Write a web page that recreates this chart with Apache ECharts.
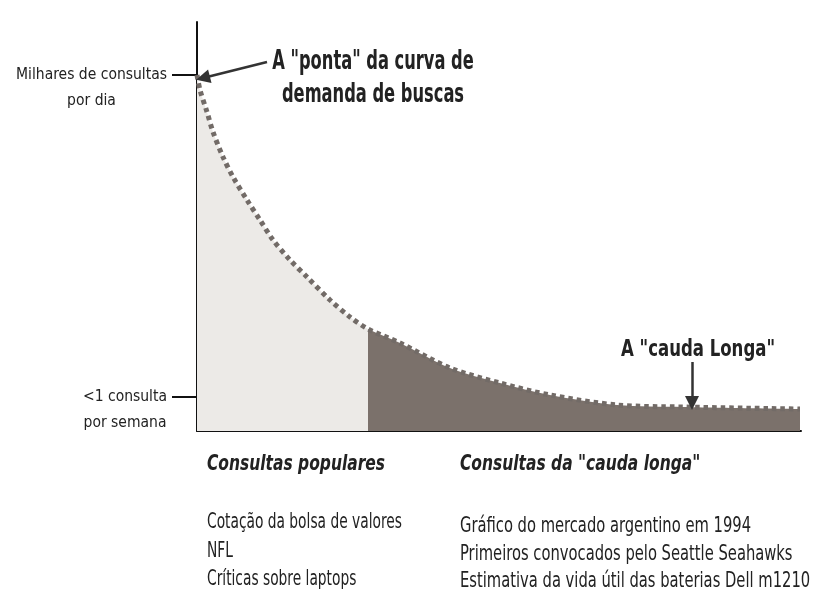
<!DOCTYPE html>
<html>
<head>
<meta charset="utf-8">
<script src="https://cdn.jsdelivr.net/npm/echarts@6/dist/echarts.min.js"></script>
<style>html,body{margin:0;padding:0;background:#fff;}#c{width:828px;height:609px;}</style>
</head>
<body>
<div id="c"></div>
<script>
// Curve: x = position along the query ranking, y = search volume (arbitrary units)
const curveX = [0, 3, 10, 16, 26, 36, 50, 63, 76, 93, 110, 133, 153, 171, 203, 253, 303, 353, 420, 486, 603];
const curveY = [356, 341, 319, 299, 274, 254, 231, 211, 191, 171, 154, 131, 114, 102, 88, 63, 48, 36, 26, 24, 22];
const splitX = 171;            // boundary between popular queries and the long tail
const xMax = 604, yMax = 409;
const tickValues = [34, 356];
const tickLabels = {356: ['Milhares de consultas', 'por dia'], 34: ['<1 consulta', 'por semana']};
const headTitle = ['A "ponta" da curva de', 'demanda de buscas'];
const tailTitle = 'A "cauda Longa"';
const headArrow = [[70, 369], [6, 353]];
const tailArrow = [[495, 69], [495, 28]];
const leftHeading = 'Consultas populares';
const rightHeading = 'Consultas da "cauda longa"';
const leftItems = ['Cotação da bolsa de valores', 'NFL', 'Críticas sobre laptops'];
const rightItems = ['Gráfico do mercado argentino em 1994', 'Primeiros convocados pelo Seattle Seahawks', 'Estimativa da vida útil das baterias Dell m1210'];

const FF = "'DejaVu Sans Condensed', 'Liberation Sans Narrow', sans-serif";
const data = curveX.map((x, i) => [x, curveY[i]]);
const LIGHT = '#ecEAE7', DARK = '#7b716b';
const s = (splitX - curveX[0]) / (curveX[curveX.length - 1] - curveX[0]);

const chart = echarts.init(document.getElementById('c'), null, {renderer: 'canvas'});

function txt(text, x, y, sx, opts) {
  return {
    type: 'text', x: x, y: y, scaleX: sx, silent: true,
    style: Object.assign({
      text: text, fill: '#222', fontFamily: FF, fontSize: 21,
      textAlign: 'left', textVerticalAlign: 'middle'
    }, opts || {})
  };
}

const graphics = [
  txt(headTitle[0], 373, 62, 0.67, {fontSize: 27, fontWeight: 'bold', textAlign: 'center'}),
  txt(headTitle[1], 373, 95, 0.67, {fontSize: 27, fontWeight: 'bold', textAlign: 'center'}),
  txt(tailTitle, 698, 350, 0.8, {fontSize: 23, fontWeight: 'bold', textAlign: 'center'}),
  txt(leftHeading, 207, 465, 0.82, {fontSize: 21, fontWeight: 'bold', fontStyle: 'italic'}),
  txt(rightHeading, 460, 465, 0.82, {fontSize: 21, fontWeight: 'bold', fontStyle: 'italic'})
];
leftItems.forEach((t, i) => graphics.push(txt(t, 207, 523 + i * 28.5, 0.73)));
rightItems.forEach((t, i) => graphics.push(txt(t, 460, 527 + i * 27.5, 0.78)));

chart.setOption({
  animation: false,
  backgroundColor: '#ffffff',
  grid: {left: 197, right: 27, top: 22, bottom: 178},
  xAxis: {
    type: 'value', min: 0, max: xMax,
    axisLine: {show: true, lineStyle: {color: '#111', width: 2}},
    axisTick: {show: false}, axisLabel: {show: false}, splitLine: {show: false}
  },
  yAxis: {
    type: 'value', min: 0, max: yMax,
    axisLine: {show: true, lineStyle: {color: '#111', width: 2}},
    splitLine: {show: false},
    axisTick: {show: true, customValues: tickValues, length: 25, lineStyle: {color: '#111', width: 2}},
    axisLabel: {
      show: true, customValues: tickValues, margin: 30,
      formatter: function (v) {
        const l = tickLabels[Math.round(v)];
        if (!l) return '';
        return '{a| }\n{a|' + l[0] + '}\n{a|' + l[1] + '}';
      },
      rich: {a: {fontFamily: FF, fontSize: 15.5, lineHeight: 26, color: '#222', align: 'center'}}
    }
  },
  series: [
    {
      type: 'line', data: data, smooth: 0.3, symbol: 'none', silent: true,
      lineStyle: {width: 0, opacity: 0},
      areaStyle: {
        opacity: 1,
        color: new echarts.graphic.LinearGradient(0, 0, 1, 0, [
          {offset: 0, color: LIGHT}, {offset: s, color: LIGHT},
          {offset: s, color: DARK}, {offset: 1, color: DARK}
        ])
      },
      z: 1
    },
    {
      type: 'line', data: data, smooth: 0.3, symbol: 'none', silent: true,
      lineStyle: {color: '#726b67', width: 5, type: [4.5, 4], cap: 'butt'}, z: 3
    },
    {
      type: 'line', data: [], silent: true, z: 4,
      markLine: {
        silent: true, symbol: ['none', 'triangle'], symbolSize: [14, 14],
        label: {show: false},
        lineStyle: {color: '#333', width: 2.5, type: 'solid'},
        data: [
          [{coord: headArrow[0]}, {coord: headArrow[1]}],
          [{coord: tailArrow[0]}, {coord: tailArrow[1]}]
        ]
      }
    }
  ],
  graphic: graphics
});
</script>
</body>
</html>
